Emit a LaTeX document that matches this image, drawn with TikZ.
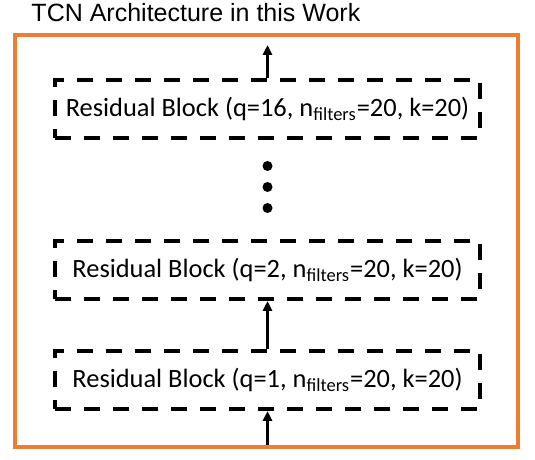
\documentclass[tikz,border=0pt]{standalone}
\usepackage{fontspec}
\setmainfont{Carlito}
\newfontfamily\titlefont{Liberation Sans}
\usetikzlibrary{arrows.meta, positioning}
\definecolor{frameorange}{RGB}{237,125,49}

\begin{document}
\begin{tikzpicture}[-{Triangle[width=4.5pt, length=5pt]}, line width=1.5pt, node distance=24pt,
    res_block/.style ={rectangle, draw=black, line width=2pt, dash pattern=on 8pt off 6.5pt,
      minimum width=212.5pt, minimum height=29pt,
      font=\fontsize{13.2}{15}\selectfont}]
    \useasboundingbox (0,0) rectangle (267.5pt,230pt);
    \node[anchor=base west, inner sep=0pt, font=\titlefont\fontsize{12.5}{15}\selectfont] (title) at (15pt,219pt) {TCN Architecture in this Work};
    \draw[-, draw=frameorange, line width=2.25pt] (7.5pt,6.5pt) coordinate (frame_sw) rectangle (259pt,212.5pt) coordinate (frame_ne);
    \node[res_block] (res1) at (133.75pt,40pt) {Residual Block (q=1, n\textsubscript{filters}=20, k=20)};
    \node[above=of res1, res_block] (res2) {Residual Block (q=2, n\textsubscript{filters}=20, k=20)};
    \node[above=49.5pt of res2, res_block] (res16) {Residual Block (q=16, n\textsubscript{filters}=20, k=20)};
    \coordinate[above=26pt of res2] (dots);
    \coordinate[above=16.5pt of res16] (out);
    \coordinate (in) at ([yshift=1pt]res1.south |- frame_sw);
    \foreach \dy in {-10.5,0,10.5}
      \fill ([yshift=\dy pt]dots) circle (2.5pt);
    \path (in) edge (res1)
          (res1) edge (res2)
          (res16) edge (out);
\end{tikzpicture}
\end{document}
